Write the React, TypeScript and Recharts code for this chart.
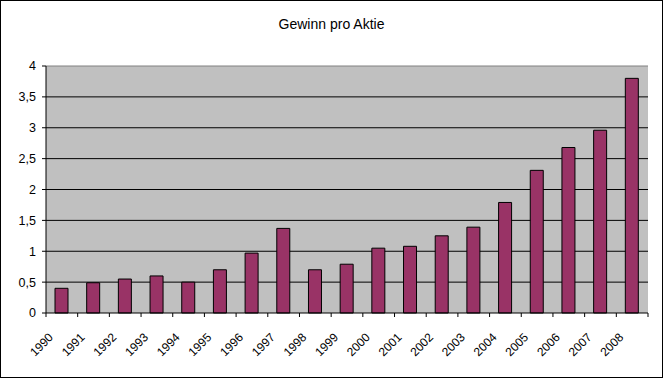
import React from "react";
import { BarChart, Bar, XAxis, YAxis, CartesianGrid, ReferenceLine } from "recharts";

const years = ["1990","1991","1992","1993","1994","1995","1996","1997","1998","1999","2000","2001","2002","2003","2004","2005","2006","2007","2008"];
const gewinn = [0.40,0.49,0.55,0.60,0.50,0.70,0.97,1.37,0.70,0.79,1.05,1.08,1.25,1.39,1.79,2.31,2.68,2.96,3.80];
const yTicks = [0,0.5,1,1.5,2,2.5,3,3.5,4];
const title = "Gewinn pro Aktie";

const data = years.map((y, i) => ({ year: y, value: gewinn[i] }));

const W = 663;
const H = 378;
const M = { top: 66, right: 15, bottom: 0, left: 0 };
const Y_W = 46;
const X_H = 65;
const PLOT_W = W - M.left - M.right - Y_W;
const BAND = PLOT_W / years.length;
const FONT = "Arial, 'Liberation Sans', sans-serif";

const XTick = (props: any) => {
  const { x, y, payload, index } = props;
  const lx = x - BAND / 2;
  const rx = x + BAND / 2;
  const ax = x - 8;
  const ay = y + 25;
  return (
    <g>
      <line x1={lx} y1={y} x2={lx} y2={y + 4} stroke="#000" />
      {index === years.length - 1 && <line x1={rx} y1={y} x2={rx} y2={y + 4} stroke="#000" />}
      <text x={ax} y={ay} textAnchor="end" fontSize={12} fontFamily={FONT} fill="#000" transform={`rotate(-45, ${ax}, ${ay})`}>
        {payload.value}
      </text>
    </g>
  );
};

export default function App() {
  return (
    <div style={{ position: "absolute", left: 0, top: 0, width: W, height: H, background: "#fff" }}>
      <BarChart width={W} height={H} data={data} margin={M} barSize={13}>
        <CartesianGrid horizontal vertical={false} horizontalValues={[0.5,1,1.5,2,2.5,3,3.5]} stroke="#000" strokeWidth={1} fill="#C0C0C0" fillOpacity={1} />
        <XAxis dataKey="year" height={X_H} interval={0} tickLine={false} tickSize={0} tickMargin={0} axisLine={{ stroke: "#000" }} tick={<XTick />} />
        <YAxis width={Y_W} domain={[0, 4]} ticks={yTicks} interval={0} tickSize={4} tickMargin={6}
          tickLine={{ stroke: "#000" }} axisLine={{ stroke: "#000" }}
          tick={{ fontSize: 12.5, fontFamily: FONT, fill: "#000" }}
          tickFormatter={(v: number) => String(v).replace(".", ",")} />
        <YAxis yAxisId="r" orientation="right" width={0} domain={[0, 4]} tick={false} tickLine={false} axisLine={{ stroke: "#808080" }} />
        <ReferenceLine y={4} stroke="#808080" />
        <Bar dataKey="value" fill="#993366" stroke="#000" strokeWidth={1} isAnimationActive={false} />
      </BarChart>
      <div style={{ position: "absolute", left: 0, top: 15, width: W, textAlign: "center", fontFamily: FONT, fontSize: 14, lineHeight: "18px", color: "#000" }}>
        {title}
      </div>
      <div style={{ position: "absolute", left: 0, top: 0, width: W, height: H, boxSizing: "border-box", border: "1px solid #000", pointerEvents: "none" }} />
    </div>
  );
}
